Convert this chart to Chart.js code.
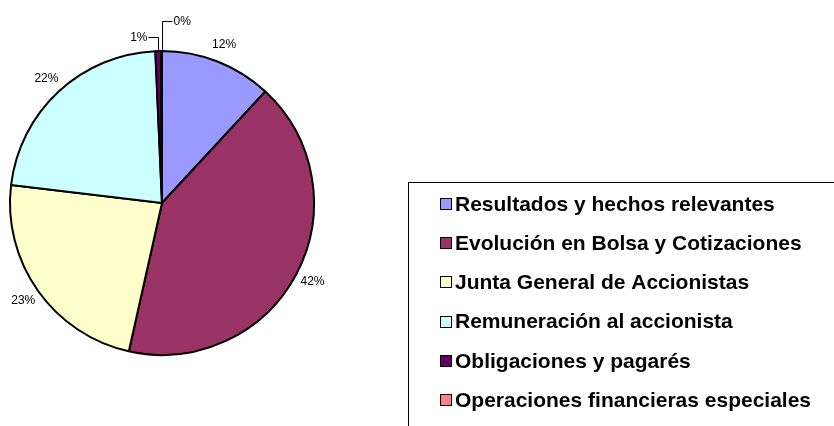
<!DOCTYPE html>
<html>
<head>
<meta charset="utf-8">
<script src="https://cdn.jsdelivr.net/npm/chart.js@4/dist/chart.umd.min.js"></script>
<style>
  body { margin: 0; background: #fff; overflow: hidden; }
  canvas { display: block; }
</style>
</head>
<body>
<canvas id="tarta" width="834" height="426"></canvas>
<script>
const categorias = [
  "Resultados y hechos relevantes",
  "Evolución en Bolsa y Cotizaciones",
  "Junta General de Accionistas",
  "Remuneración al accionista",
  "Obligaciones y pagarés",
  "Operaciones financieras especiales"
];
const valores = [11.9, 41.6, 23.4, 22.4, 0.6, 0.1];
const etiquetas = ["12%", "42%", "23%", "22%", "1%", "0%"];
const colores = ["#9999FF", "#993366", "#FFFFCC", "#CCFFFF", "#660066", "#FF8080"];

const fuente = '"Liberation Sans", Arial, sans-serif';

// percentage labels, small slices get a leader line
const porcentajes = {
  id: 'porcentajes',
  afterDatasetsDraw(chart) {
    const ctx = chart.ctx;
    const meta = chart.getDatasetMeta(0);
    ctx.save();
    ctx.font = '12px ' + fuente;
    ctx.fillStyle = '#000';
    ctx.strokeStyle = '#000';
    ctx.lineWidth = 1;
    ctx.textBaseline = 'middle';
    let k = 0;
    meta.data.forEach((arc, i) => {
      const p = arc.getProps(['x', 'y', 'startAngle', 'endAngle', 'outerRadius'], true);
      const mid = (p.startAngle + p.endAngle) / 2;
      if (valores[i] >= 2) {
        const r = p.outerRadius + 18;
        ctx.textAlign = 'center';
        ctx.fillText(etiquetas[i], p.x + Math.cos(mid) * r, p.y + Math.sin(mid) * r);
      } else {
        const px = Math.round(p.x + Math.cos(mid) * p.outerRadius) + 0.5;
        const py = p.y + Math.sin(mid) * p.outerRadius;
        const top = Math.round(py - 14 - 16 * k) + 0.5;
        const dir = k % 2 === 0 ? -1 : 1;
        ctx.beginPath();
        ctx.moveTo(px, py);
        ctx.lineTo(px, top);
        ctx.lineTo(px + dir * 10, top);
        ctx.stroke();
        ctx.textAlign = dir < 0 ? 'right' : 'left';
        ctx.fillText(etiquetas[i], px + dir * 11, top);
        k++;
      }
    });
    ctx.restore();
  }
};

// legend box on the right, cut by the edge like the original
const leyenda = {
  id: 'leyenda',
  afterDraw(chart) {
    const ctx = chart.ctx;
    ctx.save();
    ctx.strokeStyle = '#000';
    ctx.lineWidth = 1;
    ctx.strokeRect(408.5, 182.5, 600, 400);
    ctx.font = 'bold 21px ' + fuente;
    ctx.textAlign = 'left';
    ctx.textBaseline = 'middle';
    categorias.forEach((txt, i) => {
      const y = 204 + i * 39.2;
      ctx.fillStyle = colores[i];
      ctx.fillRect(440, Math.round(y - 6), 11, 11);
      ctx.strokeRect(440.5, Math.round(y - 6) + 0.5, 11, 11);
      ctx.fillStyle = '#000';
      ctx.fillText(txt, 455, y + 1);
    });
    ctx.restore();
  }
};

new Chart(document.getElementById('tarta'), {
  type: 'pie',
  data: {
    labels: categorias,
    datasets: [{
      data: valores,
      backgroundColor: colores,
      borderColor: '#000',
      borderWidth: 2
    }]
  },
  options: {
    responsive: false,
    animation: false,
    layout: { padding: { left: 8, top: 50, right: 518, bottom: 70 } },
    plugins: {
      legend: { display: false },
      tooltip: { enabled: false }
    }
  },
  plugins: [porcentajes, leyenda]
});
</script>
</body>
</html>
